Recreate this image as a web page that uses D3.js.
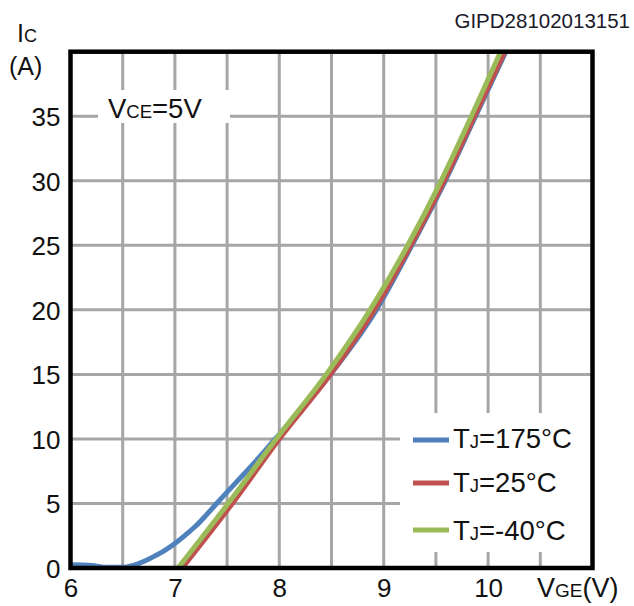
<!DOCTYPE html>
<html><head><meta charset="utf-8">
<script src="https://cdn.jsdelivr.net/npm/d3@7/dist/d3.min.js"></script>
<style>html,body{margin:0;padding:0;background:#fff;}svg{display:block;font-family:"Liberation Sans",Arial,Helvetica,sans-serif;}</style>
</head><body>
<svg id="c" width="634" height="606"></svg>
<script>
// ---- data ----
const xTicks = [6, 7, 8, 9, 10];
const yTicks = [0, 5, 10, 15, 20, 25, 30, 35];
const xGrid = [6.5, 7, 7.5, 8, 8.5, 9, 9.5, 10, 10.5];
const yGrid = [5, 10, 15, 20, 25, 30, 35];
// Tj = 175°C
const vge175 = [6.0, 6.2, 6.35, 6.5, 6.6, 6.7, 6.8, 6.9, 7.0, 7.1, 7.2, 7.3, 7.4, 7.6, 7.8, 7.95, 8.49, 8.93, 9.27, 9.59, 9.88, 10.17];
const ic175  = [0.25, 0.2, 0.05, 0.05, 0.2, 0.5, 0.9, 1.35, 1.9, 2.55, 3.25, 4.1, 5.0, 6.75, 8.5, 9.9, 15, 20, 25, 30, 35, 40];
// Tj = 25°C
const vge25 = [7.07, 7.55, 8.00, 8.49, 8.91, 9.26, 9.58, 9.87, 10.16];
const ic25  = [0, 5, 10, 15, 20, 25, 30, 35, 40];
// Tj = -40°C
const vgeM40 = [7.03, 7.51, 7.97, 8.45, 8.87, 9.23, 9.55, 9.84, 10.12];
const icM40  = [0, 5, 10, 15, 20, 25, 30, 35, 40];

const seriesNames = ["175", "25", "-40"];
const seriesColors = ["#4f81bd", "#c0504d", "#9bbb59"];

// ---- layout ----
const svg = d3.select("#c");
const L = 70.5, R = 592.5, T = 51.7, B = 568;
const x = d3.scaleLinear().domain([6, 11]).range([L, R]);
const y = d3.scaleLinear().domain([0, 40]).range([B, T]);
const gridCol = "#a6a6a6";

// grid
const grid = svg.append("g");
grid.selectAll("line.vx").data(xGrid).enter().append("line")
  .attr("x1", d => x(d)).attr("x2", d => x(d)).attr("y1", T).attr("y2", B)
  .attr("stroke", gridCol).attr("stroke-width", 3);
grid.selectAll("line.hy").data(yGrid).enter().append("line")
  .attr("x1", L).attr("x2", R).attr("y1", d => y(d)).attr("y2", d => y(d))
  .attr("stroke", gridCol).attr("stroke-width", 3);

// white boxes masking grid
svg.append("rect").attr("x", 98).attr("y", 90).attr("width", 132).attr("height", 33).attr("fill", "#fff");
svg.append("rect").attr("x", 400).attr("y", 413).attr("width", 192).attr("height", 139).attr("fill", "#fff");

// curves
svg.append("clipPath").attr("id", "clip").append("rect")
  .attr("x", L).attr("y", T).attr("width", R - L).attr("height", B - T);
const line = d3.line().x(d => x(d[0])).y(d => y(d[1])).curve(d3.curveMonotoneX);
const series = [
  d3.zip(vge175, ic175),
  d3.zip(vge25, ic25),
  d3.zip(vgeM40, icM40)
];
const cg = svg.append("g").attr("clip-path", "url(#clip)");
series.forEach((s, i) => {
  cg.append("path").attr("d", line(s)).attr("fill", "none")
    .attr("stroke", seriesColors[i]).attr("stroke-width", 5).attr("stroke-linecap", "butt");
});

// frame
svg.append("rect").attr("x", L).attr("y", T).attr("width", R - L).attr("height", B - T)
  .attr("fill", "none").attr("stroke", "#000").attr("stroke-width", 4.5);

// axes (labels only)
const xAxis = d3.axisBottom(x).tickValues(xTicks).tickSize(0).tickPadding(0).tickFormat(d3.format("d"));
const gx = svg.append("g").attr("transform", `translate(0,${B})`).call(xAxis);
gx.select(".domain").remove();
gx.selectAll("text").attr("font-size", 26).attr("fill", "#111").attr("dy", null).attr("y", 29)
  .attr("font-family", "Liberation Sans, Arial, sans-serif");

const yAxis = d3.axisLeft(y).tickValues(yTicks).tickSize(0).tickPadding(0).tickFormat(d3.format("d"));
const gy = svg.append("g").attr("transform", `translate(${L - 10},0)`).call(yAxis);
gy.select(".domain").remove();
gy.selectAll("text").attr("font-size", 26).attr("fill", "#111").attr("dy", "0.36em")
  .attr("font-family", "Liberation Sans, Arial, sans-serif");

// helper for big/small text
function mixed(xp, yp, parts, anchor) {
  const t = svg.append("text").attr("x", xp).attr("y", yp).attr("fill", "#111")
    .attr("text-anchor", anchor || "start");
  parts.forEach(p => t.append("tspan").attr("font-size", p[1]).text(p[0]));
  return t;
}

// axis titles
mixed(17, 42, [["I", 25], ["C", 18]]);
mixed(9, 75, [["(A)", 25]]);
mixed(537, 597, [["V", 27], ["GE", 19], ["(V)", 27]]);
mixed(108, 118, [["V", 27.5], ["CE", 18.5], ["=5V", 27.5]]);
svg.append("text").attr("x", 630).attr("y", 28).attr("text-anchor", "end")
  .attr("font-size", 20.5).attr("fill", "#1a1a2a").text("GIPD28102013151");

// legend
const legY = [440, 483, 530];
const legBase = [448, 492, 540];
seriesNames.forEach((n, i) => {
  svg.append("line").attr("x1", 413).attr("x2", 449).attr("y1", legY[i]).attr("y2", legY[i])
    .attr("stroke", seriesColors[i]).attr("stroke-width", 5);
  mixed(453, legBase[i], [["T", 27.5], ["J", 18.5], ["=" + n + "°C", 27.5]]);
});
</script>
</body></html>
